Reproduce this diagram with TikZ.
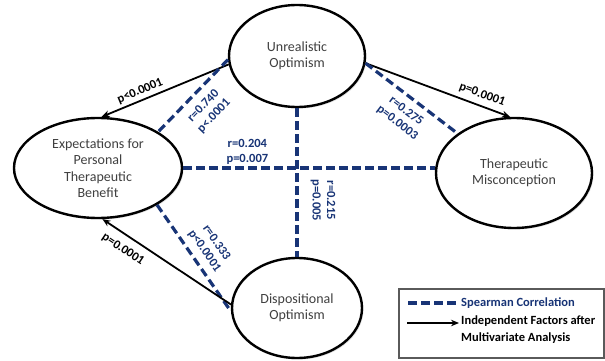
\documentclass[tikz,border=0pt]{standalone}
\usepackage{fontspec}
\setmainfont{Carlito}
\usetikzlibrary{shapes.geometric,arrows.meta,shadows,calc}
\definecolor{navy}{RGB}{24,52,118}
\definecolor{txtgray}{RGB}{64,64,64}
\definecolor{leggray}{RGB}{90,90,90}
\begin{document}
\begin{tikzpicture}[x=1pt,y=-1pt]
\tikzset{
  factor/.style={ellipse, draw=black, line width=2.4pt, fill=white, inner sep=0pt,
    font=\fontsize{14}{16.5}\selectfont, text=txtgray, align=center,
    drop shadow={opacity=0.25, shadow xshift=1.5pt, shadow yshift=-1.5pt}},
  corr/.style={draw=navy, line width=3.2pt, dash pattern=on 8.5pt off 4.5pt},
  effect/.style={draw=black, line width=1.8pt, -{Stealth[length=8pt,width=6.5pt]}},
  clabel/.style={text=navy, font=\bfseries\fontsize{12.5}{14.5}\selectfont, align=center, inner sep=1pt},
  elabel/.style={text=black, font=\bfseries\fontsize{12.5}{14.5}\selectfont, inner sep=1pt},
  legtext/.style={font=\bfseries\fontsize{12.5}{17}\selectfont, align=left, inner sep=2pt}
}
\useasboundingbox (0,0) rectangle (605,361);
\fill[white] (0,0) rectangle (605,361);

% factors
\node[factor, minimum width=136pt, minimum height=102pt] (uo) at (297,56) {Unrealistic\\Optimism};
\node[factor, minimum width=168pt, minimum height=100pt] (ex) at (98,168) {Expectations for\\Personal\\Therapeutic\\Benefit};
\node[factor, minimum width=156pt, minimum height=110pt] (tm) at (514,173) {Therapeutic\\Misconception};
\node[factor, minimum width=130pt, minimum height=100pt] (dop) at (297,308) {Dispositional\\Optimism};

% connectors
\draw[effect] (uo.187) -- node[elabel, sloped, above=2pt, pos=0.67]{p<0.0001} (ex.86);
\draw[corr] (uo.183) -- node[clabel, sloped, below=7pt, pos=0.5]{r=0.740\\p<.0001} (ex.31);
\draw[effect] (uo.354) -- node[elabel, sloped, above=4pt, pos=0.78]{p=0.0001} (tm.94);
\draw[corr] (uo.354) -- node[clabel, sloped, below=6pt, pos=0.53]{r=0.275\\p=0.0003} (tm.145);
\draw[corr] (ex.east) -- node[clabel, above=1pt, pos=0.255]{r=0.204\\p=0.007} (ex.east -| tm.west);
\draw[corr] (uo.south) -- node[clabel, rotate=-90, anchor=south, inner sep=12pt, pos=0.62]{r=0.215\\p=0.005} (dop.north);
\draw[corr] (ex.328) -- node[clabel, sloped, above=5pt, pos=0.5]{r=0.333\\p<0.0001} (dop.183);
\draw[effect] (dop.177) -- node[elabel, sloped, below=7pt, pos=0.78]{p=0.0001} (ex.275);

% legend
\node[draw=leggray, line width=1.5pt, fill=white, minimum width=205pt, minimum height=69pt,
  anchor=north west, inner sep=0pt,
  drop shadow={opacity=0.25, shadow xshift=1.5pt, shadow yshift=-1.5pt}] (leg) at (398,288) {};
\node[legtext, text=navy, anchor=west] (legcorr) at (459,303) {Spearman Correlation};
\node[legtext, text=black, anchor=north west] (legeff) at (459,314) {Independent Factors after\\Multivariate Analysis};
\coordinate (d1) at (408,303);
\coordinate (a1) at (407,323);
\draw[corr] (d1) -- (d1 -| legcorr.west);
\draw[effect] (a1) -- (a1 -| legeff.west);
\end{tikzpicture}
\end{document}
